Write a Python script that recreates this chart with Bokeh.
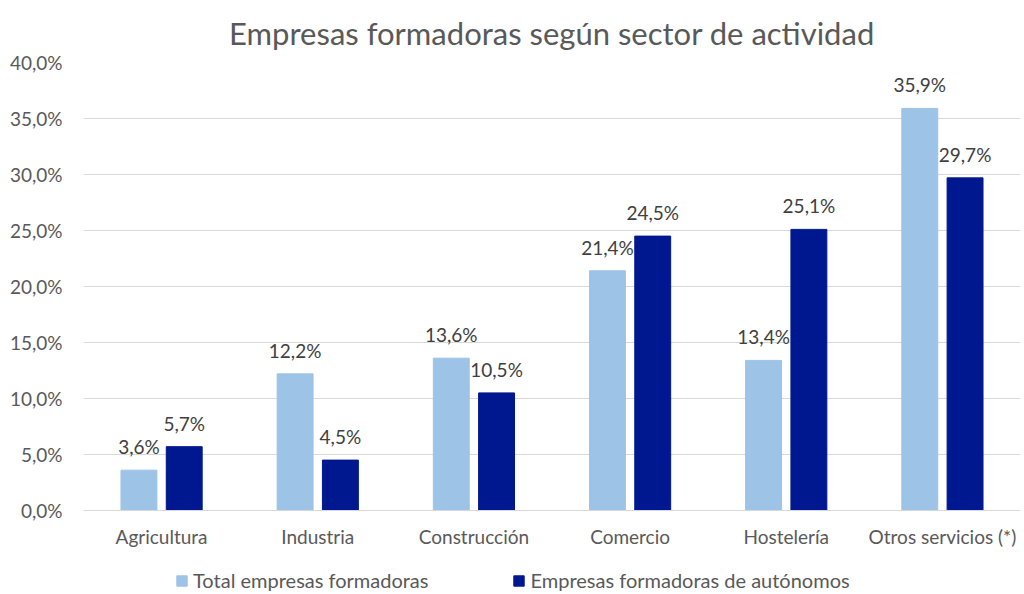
from bokeh.plotting import figure
from bokeh.layouts import column
from bokeh.models import ColumnDataSource, FactorRange, FixedTicker, Legend, LegendItem, Range1d
from bokeh.transform import dodge
from bokeh.core.properties import value
from bokeh.embed import file_html
from bokeh.resources import INLINE

categories = ["Agricultura", "Industria", "Construcción", "Comercio", "Hostelería", "Otros servicios (*)"]
total = [3.6, 12.2, 13.6, 21.4, 13.4, 35.9]
autonomos = [5.7, 4.5, 10.5, 24.5, 25.1, 29.7]
series_names = ["Total empresas formadoras", "Empresas formadoras de autónomos"]
y_ticks = [0, 5, 10, 15, 20, 25, 30, 35, 40]
y_tick_labels = ["0,0%", "5,0%", "10,0%", "15,0%", "20,0%", "25,0%", "30,0%", "35,0%", "40,0%"]

FONT = "Lato"
GRAY = "#595959"
LIGHT = "#9DC3E6"
DARK = "#00188F"

def fmt(v):
    return f"{v:.1f}".replace(".", ",") + "%"

source = ColumnDataSource(dict(
    cat=categories,
    total=total,
    autonomos=autonomos,
    total_lbl=[fmt(v) for v in total],
    auto_lbl=[fmt(v) for v in autonomos],
))

p = figure(
    x_range=FactorRange(*categories),
    y_range=Range1d(0, 40),
    width=1020, height=560,
    output_backend="svg", toolbar_location=None,
    min_border_left=83, min_border_right=0, min_border_top=61, min_border_bottom=50,
    title="Empresas formadoras según sector de actividad",
)
p.x_range.range_padding = 0
p.outline_line_color = None

p.title.align = "center"
p.title.text_font = FONT
p.title.text_font_size = "31px"
p.title.text_font_style = "normal"
p.title.text_color = GRAY
p.title.standoff = 22

r1 = p.vbar(x=dodge("cat", -0.145, range=p.x_range), top="total", width=0.23,
            source=source, fill_color=LIGHT, line_color=LIGHT)
r2 = p.vbar(x=dodge("cat", 0.145, range=p.x_range), top="autonomos", width=0.23,
            source=source, fill_color=DARK, line_color=DARK)

p.text(x=dodge("cat", -0.145, range=p.x_range), y="total", text="total_lbl", source=source,
       text_align="center", text_baseline="bottom", y_offset=-12,
       text_font=value(FONT), text_font_size="19px", text_color="#404040")
p.text(x=dodge("cat", 0.145, range=p.x_range), y="autonomos", text="auto_lbl", source=source,
       text_align="center", text_baseline="bottom", y_offset=-12,
       text_font=value(FONT), text_font_size="19px", text_color="#404040")

# axes
p.yaxis.ticker = FixedTicker(ticks=y_ticks)
p.yaxis.major_label_overrides = {t: l for t, l in zip(y_ticks, y_tick_labels)}
p.yaxis.axis_line_color = None
p.yaxis.major_tick_line_color = None
p.yaxis.minor_tick_line_color = None
p.yaxis.major_label_text_font = FONT
p.yaxis.major_label_text_font_size = "19px"
p.yaxis.major_label_text_color = GRAY
p.yaxis.major_label_standoff = 15

p.xaxis.axis_line_color = "#D9D9D9"
p.xaxis.axis_line_width = 1
p.xaxis.major_tick_line_color = None
p.xaxis.minor_tick_line_color = None
p.xaxis.major_label_text_font = FONT
p.xaxis.major_label_text_font_size = "19px"
p.xaxis.major_label_text_color = GRAY
p.xaxis.major_label_standoff = 8

p.xgrid.grid_line_color = None
p.ygrid.grid_line_color = "#D9D9D9"
p.ygrid.grid_line_width = 1

# legend strip below the chart (its swatches reuse the series colours)
lg = figure(width=1020, height=32, x_range=Range1d(0, 1), y_range=Range1d(0, 1),
            output_backend="svg", toolbar_location=None,
            min_border_left=83, min_border_right=0, min_border_top=0, min_border_bottom=0)
lg.axis.visible = False
lg.grid.visible = False
lg.outline_line_color = None
swatch = ColumnDataSource(dict(x=[-10], top=[-10]))
d1 = lg.vbar(x="x", top="top", width=0.1, source=swatch, fill_color=LIGHT, line_color=LIGHT)
d2 = lg.vbar(x="x", top="top", width=0.1, source=swatch, fill_color=DARK, line_color=DARK)
legend = Legend(items=[LegendItem(label=series_names[0], renderers=[d1]),
                       LegendItem(label=series_names[1], renderers=[d2])],
                orientation="horizontal", location=(92, 0),
                label_text_font=FONT, label_text_font_size="20px", label_text_color=GRAY,
                glyph_width=13, glyph_height=13, label_height=20, spacing=84, label_standoff=5,
                border_line_color=None, background_fill_alpha=0, padding=0, margin=0)
lg.add_layout(legend, "center")

layout = column(p, lg, spacing=0)
open("out.html", "w").write(file_html(layout, INLINE))
